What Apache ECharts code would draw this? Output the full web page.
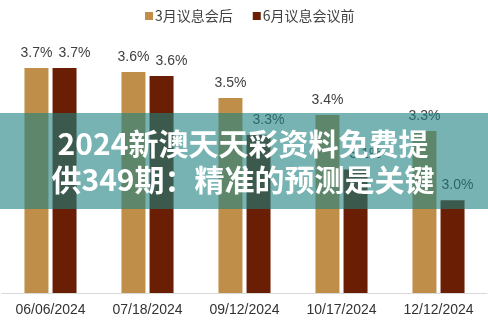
<!DOCTYPE html>
<html>
<head>
<meta charset="utf-8">
<script src="https://cdn.jsdelivr.net/npm/echarts@6/dist/echarts.min.js"></script>
<style>
html,body{margin:0;padding:0;background:#fff;}
#chart{width:488px;height:322px;}
</style>
</head>
<body>
<div id="chart"></div>
<script>
var categories = ['06/06/2024', '07/18/2024', '09/12/2024', '10/17/2024', '12/12/2024'];
var seriesNames = ['3月议息会后', '6月议息会议前'];
var afterMarch = [3.665, 3.644, 3.51, 3.422, 3.339];
var beforeJune = [3.665, 3.624, 3.318, 3.14, 2.98];
var bannerLines = ['2024新澳天天彩资料免费提', '供349期：精准的预测是关键'];

var chart = echarts.init(document.getElementById('chart'), null, {renderer: 'canvas'});
function labelCfg(dx) {
  return {
    show: true,
    position: 'top',
    distance: 8,
    offset: [dx, 0],
    fontSize: 14,
    color: '#404040',
    fontFamily: 'Liberation Sans, Arial, sans-serif',
    formatter: function (p) { return p.value.toFixed(1) + '%'; }
  };
}
var beforeJuneData = beforeJune.map(function (v, i) {
  return i === beforeJune.length - 1 ? {value: v, label: {offset: [5, 0]}} : v;
});
chart.setOption({
  animation: false,
  backgroundColor: '#fff',
  legend: {
    top: 4,
    left: 140,
    itemWidth: 8,
    itemHeight: 8,
    itemGap: 20,
    icon: 'rect',
    textStyle: {fontSize: 14, color: '#404040', fontFamily: 'Noto Sans CJK SC, sans-serif', padding: [0, 0, 0, -3]},
    data: seriesNames
  },
  grid: {left: 2, right: 1, top: 42, bottom: 29, containLabel: false},
  xAxis: {
    type: 'category',
    data: categories,
    axisLine: {lineStyle: {color: '#d9d9d9', width: 1}},
    axisTick: {show: false},
    axisLabel: {fontSize: 14, color: '#333', margin: 10, fontFamily: 'Liberation Sans, Arial, sans-serif'}
  },
  yAxis: {
    type: 'value',
    min: 2.5,
    max: 3.8,
    show: false,
    splitLine: {show: false}
  },
  series: [
    {name: seriesNames[0], type: 'bar', data: afterMarch, barWidth: 24, barGap: '17%',
     itemStyle: {color: '#BF8F4A'}, label: labelCfg(0)},
    {name: seriesNames[1], type: 'bar', data: beforeJuneData, barWidth: 24, barGap: '17%',
     itemStyle: {color: '#6A1F04'}, label: labelCfg(10)}
  ],
  graphic: [
    {type: 'rect', z: 100, shape: {x: 0, y: 113, width: 488, height: 96},
     style: {fill: 'rgba(30,128,128,0.6)'}},
    {type: 'text', z: 101, x: 243, y: 144,
     style: {text: bannerLines[0], fill: '#fff', fontSize: 30, fontWeight: 'bold',
             fontFamily: 'Noto Sans CJK SC, sans-serif', align: 'center', verticalAlign: 'middle'}},
    {type: 'text', z: 101, x: 243, y: 180,
     style: {text: bannerLines[1], fill: '#fff', fontSize: 30, fontWeight: 'bold',
             fontFamily: 'Noto Sans CJK SC, sans-serif', align: 'center', verticalAlign: 'middle'}}
  ]
});
</script>
</body>
</html>
